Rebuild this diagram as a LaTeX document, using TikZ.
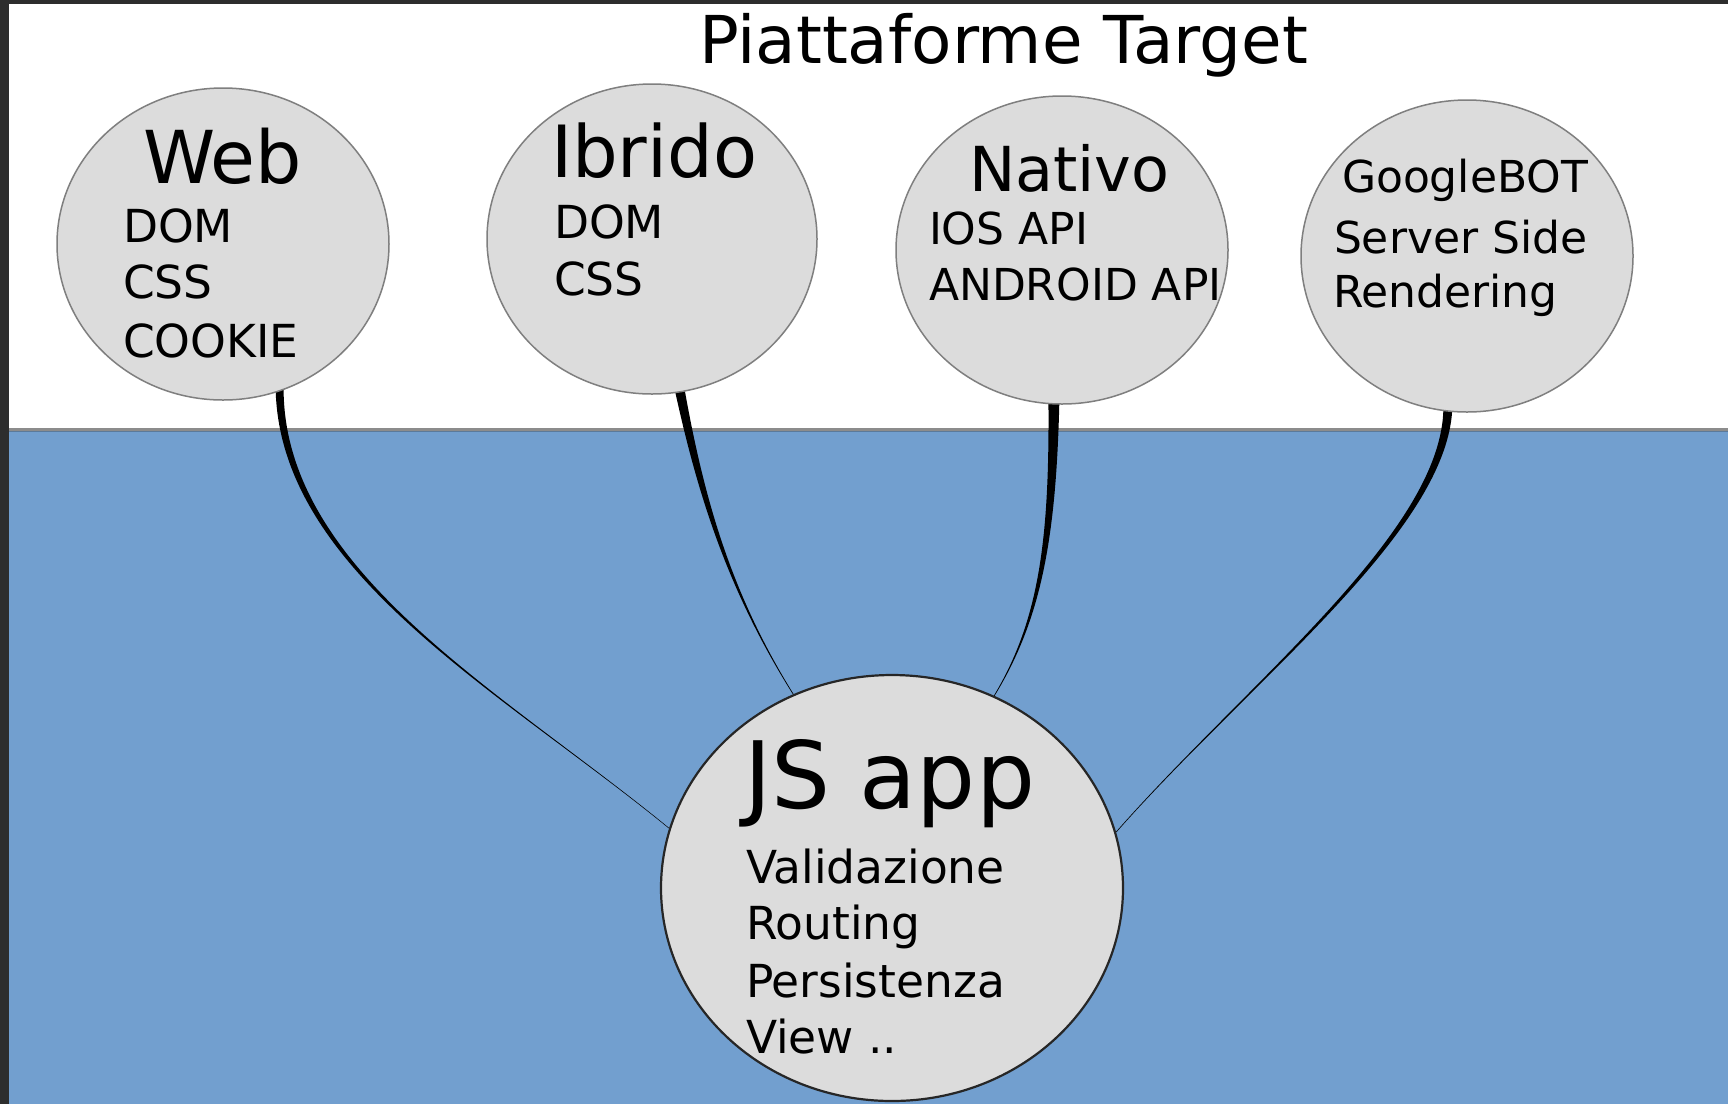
\documentclass[tikz,border=0pt]{standalone}
\usepackage{fontspec}
\setmainfont{DejaVu Sans}
\usetikzlibrary{shapes.geometric,calc}
\definecolor{sky}{HTML}{729FCF}
\definecolor{bubblefill}{HTML}{DCDCDC}
\definecolor{bubbleline}{HTML}{7F7F7F}
\definecolor{framedark}{HTML}{2D2D2D}
\definecolor{sepgray}{HTML}{8C8C8C}
\definecolor{sepblue}{HTML}{5B7A9B}
\pgfdeclarelayer{bglayer}
\pgfdeclarelayer{linklayer}
\pgfsetlayers{bglayer,linklayer,main}
% tapered connector: #1 start anchor, #2,#3 controls, #4 end anchor, #5 half width at start
\newcommand\taperlink[5]{%
  \fill[black] ($(#1)+(-#5,-6)$) .. controls ($(#2)+(-0.6*#5,0)$) and ($(#3)+(-0.15*#5,0)$) .. ($(#4)+(-0.4,0)$)
    -- ($(#4)+(0.4,0)$) .. controls ($(#3)+(0.15*#5,0)$) and ($(#2)+(0.6*#5,0)$) .. ($(#1)+(#5,-6)$) -- cycle;}
\begin{document}
\begin{tikzpicture}[x=1pt,y=-1pt,
  bubble/.style={ellipse, fill=bubblefill, draw=bubbleline, line width=1.5pt, inner sep=0pt},
  lbl/.style={anchor=base west, inner sep=0pt, outer sep=0pt, text=black},
  head/.style={lbl, font=\fontsize{70}{84}\selectfont},
  item/.style={lbl, font=\fontsize{44}{53}\selectfont},
  itembig/.style={lbl, font=\fontsize{45.5}{54}\selectfont}]
\useasboundingbox (0,0) rectangle (1728,1104);
\begin{pgfonlayer}{bglayer}
  \fill[white] (0,0) rectangle (1728,1104);
  \fill[sky] (9,431) rectangle (1728,1104);
  \fill[sepgray] (9,428) rectangle (1728,430.5);
  \fill[sepblue] (9,430.5) rectangle (1728,432);
  \fill[framedark] (0,0) rectangle (1728,4);
  \fill[framedark] (0,0) rectangle (9,1104);
\end{pgfonlayer}

% title
\node[lbl, font=\fontsize{66}{78}\selectfont] (title) at (699,63) {Piattaforme Target};

% bubbles
\node[bubble, minimum width=332pt, minimum height=312pt] (web) at (223,244) {};
\node[bubble, minimum width=330pt, minimum height=310pt] (ibrido) at (652,239) {};
\node[bubble, minimum width=332pt, minimum height=308pt] (nativo) at (1062,250) {};
\node[bubble, minimum width=332pt, minimum height=312pt] (google) at (1467,256) {};
\node[bubble, draw=black!85, line width=2.2pt, minimum width=462pt, minimum height=426pt] (js) at (892,888) {};

% Web
\node[head, font=\fontsize{73}{86}\selectfont] (webT) at (143,183) {Web};
\node[itembig] (web1) at (123,242) {DOM};
\node[itembig] (web2) at (123,298) {CSS};
\node[itembig] (web3) at (123,357) {COOKIE};
% Ibrido
\node[head, font=\fontsize{72}{84}\selectfont] (ibrT) at (551,177) {Ibrido};
\node[itembig] (ibr1) at (554,238) {DOM};
\node[itembig] (ibr2) at (554,295) {CSS};
% Nativo
\node[head, font=\fontsize{62}{74}\selectfont] (natT) at (969,191) {Nativo};
\node[item] (nat1) at (929,244) {IOS API};
\node[item] (nat2) at (929,300) {ANDROID API};
% GoogleBOT
\node[item] (gooT) at (1342,192) {GoogleBOT};
\node[item] (goo1) at (1334,253) {Server Side};
\node[item] (goo2) at (1333,307) {Rendering};
% JS app
\node[lbl, font=\fontsize{93}{110}\selectfont] (jsT) at (744,808) {JS app};
\node[itembig] (js1) at (746,883) {Validazione};
\node[itembig] (js2) at (746,939) {Routing};
\node[itembig] (js3) at (746,997) {Persistenza};
\node[itembig] (js4) at (746,1053) {View ..};

% connectors
\begin{pgfonlayer}{linklayer}
  \taperlink{web.-69.3}{279,570}{500,690}{js.165.5}{4}
  \taperlink{ibrido.-80.8}{700,493}{728,590}{js.117.7}{5}
  \taperlink{nativo.-93.3}{1053,540}{1040,620}{js.62.5}{5.5}
  \taperlink{google.-97.3}{1447,530}{1250,680}{js.14.1}{4.5}
\end{pgfonlayer}
\end{tikzpicture}
\end{document}
